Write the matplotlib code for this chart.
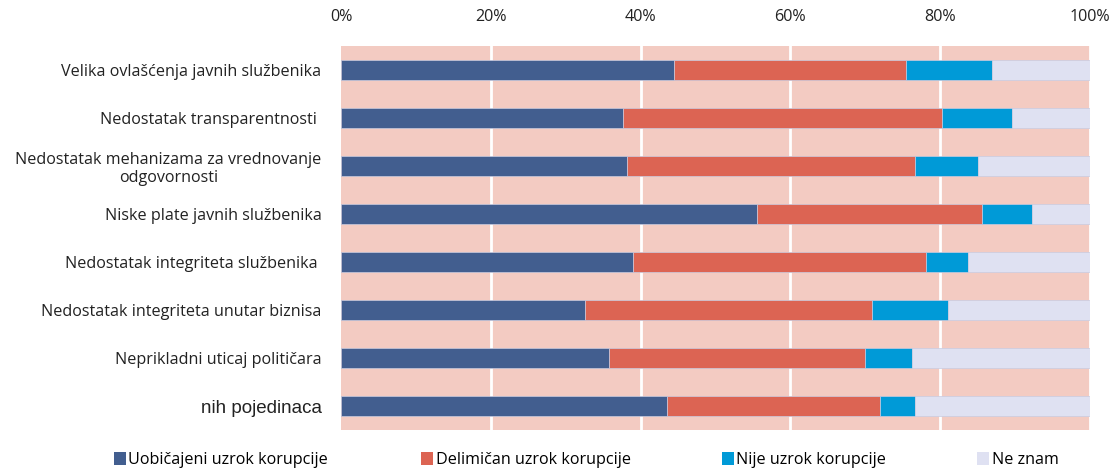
import matplotlib
matplotlib.use("Agg")
import matplotlib.pyplot as plt
from matplotlib.patches import Patch
import numpy as np

# Categories top to bottom
categories = [
    "Velika ovlašćenja javnih službenika",
    "Nedostatak transparentnosti ",
    "Nedostatak mehanizama za vrednovanje\nodgovornosti",
    "Niske plate javnih službenika",
    "Nedostatak integriteta službenika ",
    "Nedostatak integriteta unutar biznisa",
    "Neprikladni uticaj političara",
    "nih pojedinaca",
]

# Shares in percent
uobicajeni = [44.4, 37.7, 38.2, 55.5, 39.0, 32.6, 35.8, 43.5]
delimican = [31.0, 42.5, 38.5, 30.1, 39.1, 38.3, 34.2, 28.5]
nije = [11.5, 9.4, 8.3, 6.6, 5.6, 10.1, 6.2, 4.7]
ne_znam = [13.1, 10.4, 15.0, 7.8, 16.3, 19.0, 23.8, 23.3]

series_names = ["Uobičajeni uzrok korupcije", "Delimičan uzrok korupcije",
                "Nije uzrok korupcije", "Ne znam"]
colors = ["#425e8f", "#dc6453", "#009ad7", "#dfe1f2"]
tick_vals = [0, 20, 40, 60, 80, 100]
tick_labels = ["0%", "20%", "40%", "60%", "80%", "100%"]

FONT = "Open Sans"
FS = 11.6

fig = plt.figure(figsize=(11.11, 4.69), dpi=100)
ax = fig.add_axes([341 / 1111, 1 - 430 / 469, 749 / 1111, 384 / 469])
ax.set_facecolor("#f3cbc2")

y = np.arange(len(categories))
left = np.zeros(len(categories))
for vals, name, col in zip([uobicajeni, delimican, nije, ne_znam], series_names, colors):
    ax.barh(y, vals, left=left, height=0.4, color=col, edgecolor="#c9cbe0",
            linewidth=0.5, label=name, zorder=3)
    left += np.array(vals)

ax.set_xlim(0, 100)
ax.set_ylim(len(categories) - 0.5, -0.5)
ax.set_xticks(tick_vals)
ax.set_xticklabels(tick_labels, fontsize=FS, family=FONT, color="#222222")
ax.xaxis.tick_top()
ax.tick_params(axis="x", length=0, pad=15)
ax.set_yticks(y)
ax.set_yticklabels(categories, fontsize=FS, family=FONT, color="#222222",
                   multialignment="center", linespacing=1.2)
ax.tick_params(axis="y", length=0, pad=14)
# last label is in a different font in the original
ax.get_yticklabels()[-1].set_family("Liberation Sans")
ax.get_yticklabels()[-1].set_fontsize(13.5)

for v in tick_vals[1:]:
    ax.axvline(v, color="white", linewidth=2, zorder=1)
for s in ax.spines.values():
    s.set_visible(False)

# Legend items placed across the bottom
legend_x = [114, 421, 722, 977]
for name, col, lx in zip(series_names, colors, legend_x):
    fig.legend(handles=[Patch(facecolor=col, edgecolor="none")], labels=[name],
               loc="center left", bbox_to_anchor=(lx / 1111, 1 - 460 / 469),
               frameon=False, handlelength=0.75, handleheight=0.8,
               handletextpad=0.15, borderpad=0, borderaxespad=0,
               prop={"family": FONT, "size": FS})

fig.savefig("out.png", dpi=100, facecolor="white")
